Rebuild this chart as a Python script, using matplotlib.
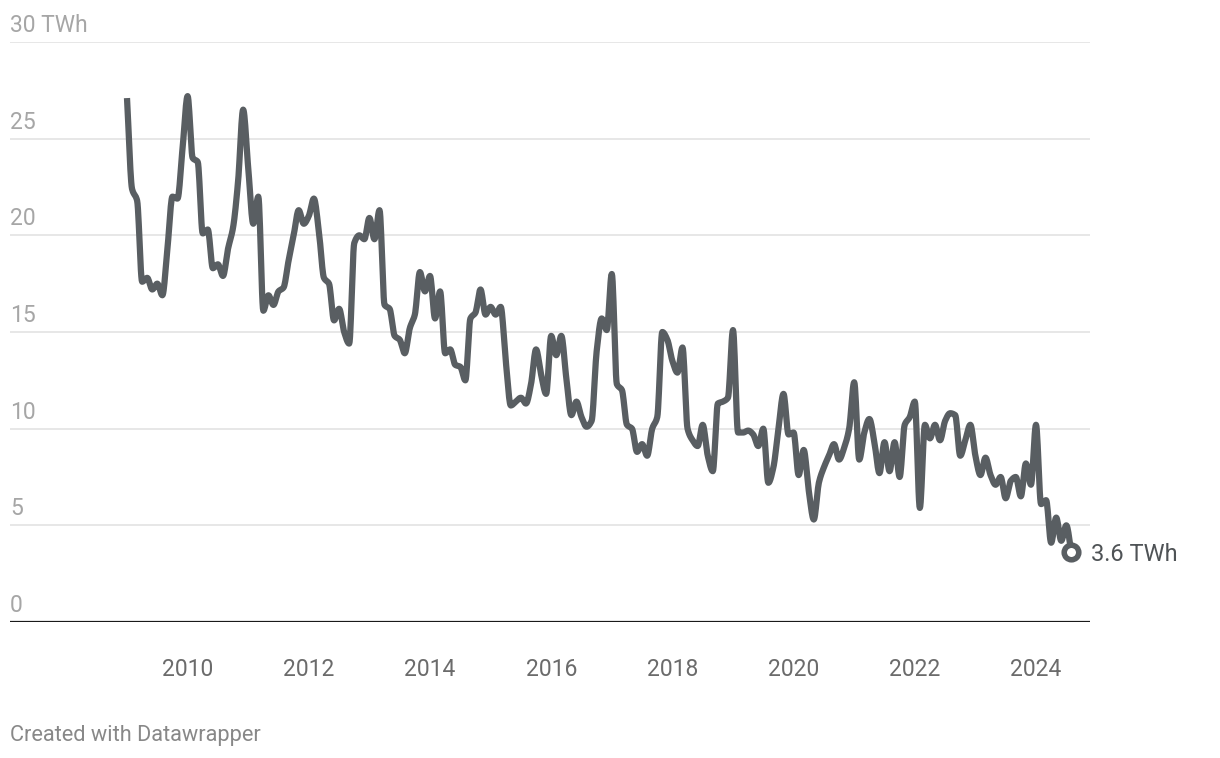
import numpy as np
import matplotlib
matplotlib.use("Agg")
import matplotlib.pyplot as plt

# Monthly values (TWh), Jan 2009 .. Aug 2024
start_year = 2009
values = [
    27.1, 22.4, 21.8, 17.6, 17.8, 17.2, 17.5, 16.9, 19.3, 22.0, 21.9, 24.5,   # 2009
    27.2, 24.0, 23.8, 20.1, 20.3, 18.3, 18.5, 17.9, 19.3, 20.4, 22.8, 26.5,   # 2010
    23.5, 20.6, 22.0, 16.1, 16.9, 16.4, 17.1, 17.3, 18.7, 20.0, 21.3, 20.6,   # 2011
    21.0, 21.9, 20.2, 17.8, 17.5, 15.6, 16.2, 15.0, 14.4, 19.6, 20.0, 19.8,   # 2012
    20.9, 19.8, 21.3, 16.4, 16.2, 14.8, 14.6, 13.9, 15.2, 15.9, 18.1, 17.1,   # 2013
    17.9, 15.7, 17.1, 13.9, 14.1, 13.3, 13.2, 12.5, 15.7, 16.0, 17.2, 15.9,   # 2014
    16.3, 15.9, 16.3, 13.5, 11.2, 11.4, 11.6, 11.3, 12.3, 14.1, 12.8, 11.8,   # 2015
    14.8, 13.8, 14.8, 12.6, 10.7, 11.4, 10.6, 10.1, 10.4, 14.0, 15.7, 15.1,   # 2016
    18.0, 12.3, 12.0, 10.2, 10.0, 8.8, 9.2, 8.6, 10.0, 10.6, 15.0, 14.6,      # 2017
    13.5, 12.9, 14.2, 10.0, 9.4, 9.1, 10.2, 8.6, 7.8, 11.3, 11.4, 11.6,       # 2018
    15.1, 9.8, 9.8, 9.9, 9.7, 9.1, 10.0, 7.2, 8.0, 10.0, 11.8, 9.7,           # 2019
    9.8, 7.6, 8.9, 6.8, 5.3, 7.2, 8.0, 8.6, 9.2, 8.4, 9.0, 10.0,              # 2020
    12.4, 8.4, 9.8, 10.5, 9.3, 7.7, 9.3, 7.8, 9.3, 7.5, 10.2, 10.6,           # 2021
    11.4, 5.9, 10.2, 9.5, 10.2, 9.4, 10.4, 10.8, 10.7, 8.6, 9.4, 10.2,        # 2022
    8.6, 7.6, 8.5, 7.6, 7.1, 7.5, 6.4, 7.3, 7.5, 6.5, 8.2, 7.1,               # 2023
    10.2, 6.1, 6.3, 4.1, 5.4, 4.2, 5.0, 3.6,                                  # 2024
]
x_ticks = [2010, 2012, 2014, 2016, 2018, 2020, 2022, 2024]
y_ticks = [0, 5, 10, 15, 20, 25, 30]
y_labels = ["0", "5", "10", "15", "20", "25", "30 TWh"]
end_label = "3.6 TWh"
footer = "Created with Datawrapper"

plt.rcParams['font.family'] = ['Roboto', 'DejaVu Sans']

x = start_year + np.arange(len(values)) / 12.0
y = np.array(values, dtype=float)


def monotone(xs, ys, n=12):
    xs = np.asarray(xs, float); ys = np.asarray(ys, float)
    h = np.diff(xs); d = np.diff(ys) / h
    m = np.zeros_like(ys)
    m[0] = d[0]; m[-1] = d[-1]
    for k in range(1, len(ys) - 1):
        if d[k - 1] * d[k] <= 0:
            m[k] = 0.0
        else:
            w1 = 2 * h[k] + h[k - 1]; w2 = h[k] + 2 * h[k - 1]
            m[k] = (w1 + w2) / (w1 / d[k - 1] + w2 / d[k])
    ox, oy = [], []
    for k in range(len(xs) - 1):
        t = np.linspace(0, 1, n, endpoint=False)
        h00 = 2 * t**3 - 3 * t**2 + 1; h10 = t**3 - 2 * t**2 + t
        h01 = -2 * t**3 + 3 * t**2; h11 = t**3 - t**2
        ox.append(xs[k] + t * h[k])
        oy.append(h00 * ys[k] + h10 * h[k] * m[k] + h01 * ys[k + 1] + h11 * h[k] * m[k + 1])
    ox.append([xs[-1]]); oy.append([ys[-1]])
    return np.concatenate(ox), np.concatenate(oy)


fig = plt.figure(figsize=(12.2, 7.58), dpi=100)
W, H = 1220, 758
ax = fig.add_axes([10 / W, 1 - 622 / H, 1080 / W, 580 / H])
ax.set_xlim(2009 + (10 - 127) / 60.6, 2009 + (1090 - 127) / 60.6)
ax.set_ylim(0, 30)
for s in ax.spines.values():
    s.set_visible(False)
ax.set_xticks([]); ax.set_yticks([])

for v, lab in zip(y_ticks, y_labels):
    if v == 0:
        ax.axhline(0, color="#1a1a1a", lw=1.6, zorder=3)
    else:
        ax.axhline(v, color="#e3e3e3", lw=1.2, zorder=1)
    ax.annotate(lab, xy=(0, v), xycoords=("axes fraction", "data"),
                xytext=(0, 3.5), textcoords="offset points",
                ha="left", va="bottom", fontsize=16.5, color="#a6a6a6")

for t in x_ticks:
    ax.annotate(str(t), xy=(t, 0), xycoords="data", xytext=(0, -34.5),
                textcoords="offset points", ha="center", va="center",
                fontsize=16.5, color="#6b6b6b")

sx, sy = monotone(x, y)
ax.plot(sx, sy, color="#595e62", lw=4.5, solid_capstyle="butt",
        solid_joinstyle="round", zorder=4)
ax.plot(x[-1], y[-1], "o", ms=10.5, mfc="white", mec="#595e62", mew=4.0,
        zorder=5, clip_on=False)
ax.annotate(end_label, xy=(x[-1], y[-1]), xytext=(14, -1.5),
            textcoords="offset points", ha="left", va="center",
            fontsize=17, color="#4f5356", annotation_clip=False)

fig.text(10 / W, 1 - 735 / H, footer, ha="left", va="center",
         fontsize=15.7, color="#888888")

fig.savefig("out.png", dpi=100, facecolor="white")
